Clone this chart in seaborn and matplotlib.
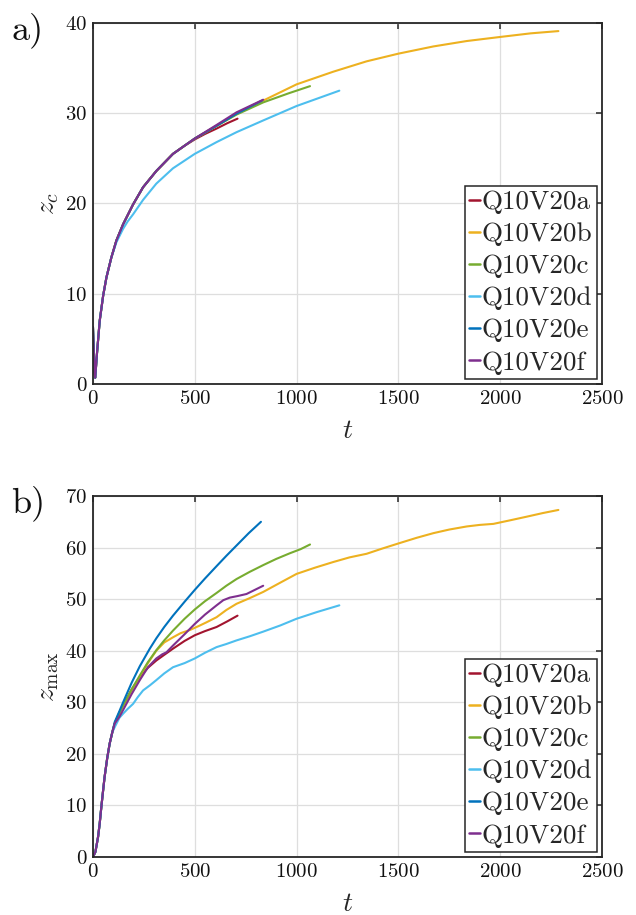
import matplotlib
matplotlib.use("Agg")
import matplotlib.pyplot as plt
import seaborn as sns
import pandas as pd

# ---------------- data ----------------
names = ["Q10V20a", "Q10V20b", "Q10V20c", "Q10V20d", "Q10V20e", "Q10V20f"]
colors = ["#A2142F", "#EDB120", "#77AC30", "#4DBEEE", "#0072BD", "#7E2F8E"]

# panel a: z_c(t)
ta_a = [0, 5, 11, 20, 33, 50, 66, 90, 115, 148, 197, 246, 311, 393, 450, 500, 550, 607, 660, 710]
za_a = [2.5, 1.5, 0.7, 3.5, 7.0, 9.8, 11.8, 14.0, 15.9, 17.7, 19.9, 21.8, 23.6, 25.5, 26.4, 27.1, 27.7, 28.3, 28.9, 29.4]
ta_b = [0, 5, 11, 20, 33, 50, 66, 90, 115, 148, 197, 246, 311, 393, 500, 607, 705, 836, 1000, 1180, 1344, 1500, 1672, 1836, 2000, 2150, 2286]
za_b = [6.3, 3.0, 0.7, 3.5, 7.0, 9.8, 11.8, 14.0, 15.9, 17.7, 19.9, 21.8, 23.6, 25.5, 27.2, 28.6, 29.9, 31.4, 33.2, 34.6, 35.75, 36.6, 37.4, 38.0, 38.45, 38.85, 39.1]
ta_c = [0, 5, 11, 20, 33, 50, 66, 90, 115, 148, 197, 246, 311, 393, 500, 607, 705, 836, 960, 1066]
za_c = [6.3, 3.0, 0.7, 3.5, 7.0, 9.8, 11.8, 14.0, 15.9, 17.7, 19.9, 21.8, 23.6, 25.5, 27.2, 28.6, 29.85, 31.2, 32.2, 33.0]
ta_d = [0, 5, 11, 20, 33, 50, 66, 90, 115, 148, 170, 197, 246, 311, 393, 500, 607, 705, 836, 1000, 1210]
za_d = [6.3, 3.0, 0.7, 3.5, 7.0, 9.8, 11.8, 14.0, 15.7, 17.2, 18.0, 18.8, 20.4, 22.2, 23.9, 25.5, 26.8, 27.9, 29.2, 30.8, 32.5]
ta_e = [0, 5, 11, 20, 33, 50, 66, 90, 115, 148, 197, 246, 311, 393, 500, 607, 705, 830]
za_e = [6.3, 3.0, 0.7, 3.5, 7.0, 9.8, 11.8, 14.0, 15.9, 17.7, 19.9, 21.8, 23.6, 25.5, 27.2, 28.6, 29.95, 31.4]
ta_f = [0, 5, 11, 20, 33, 50, 66, 90, 115, 148, 197, 246, 311, 393, 500, 607, 705, 836]
za_f = [6.3, 3.0, 0.7, 3.5, 7.0, 9.8, 11.8, 14.0, 15.9, 17.7, 19.9, 21.8, 23.6, 25.5, 27.2, 28.7, 30.1, 31.5]

# panel b: z_max(t)
tb_early = [0, 12, 25, 33, 41, 50, 57, 70, 82, 95, 107]
zb_early = [0, 1.0, 3.9, 6.5, 9.7, 13.0, 15.5, 19.2, 22.0, 24.2, 25.9]
tb_a = tb_early + [130, 148, 190, 230, 270, 311, 350, 393, 450, 500, 550, 607, 660, 710]
zb_a = zb_early + [28.0, 29.4, 32.5, 34.9, 36.7, 38.1, 39.2, 40.4, 41.9, 43.0, 43.8, 44.6, 45.7, 46.8]
tb_b = tb_early + [130, 148, 190, 230, 270, 311, 350, 393, 430, 475, 520, 557, 607, 655, 705, 770, 836, 920, 1000,
                   1090, 1180, 1260, 1344, 1420, 1500, 1590, 1672, 1750, 1836, 1900, 1967, 2050, 2131, 2210, 2286]
zb_b = zb_early + [28.0, 29.3, 32.3, 35.0, 37.6, 40.0, 41.6, 42.6, 43.4, 44.0, 44.8, 45.5, 46.5, 47.9, 49.1, 50.2, 51.4, 53.2, 54.9,
                   56.1, 57.2, 58.1, 58.8, 59.8, 60.8, 61.9, 62.8, 63.5, 64.1, 64.4, 64.6, 65.3, 66.0, 66.7, 67.3]
tb_c = tb_early + [130, 148, 190, 230, 270, 311, 350, 393, 450, 500, 550, 607, 655, 705, 770, 836, 900, 967, 1020, 1066]
zb_c = zb_early + [28.0, 29.4, 32.5, 35.2, 37.8, 40.1, 42.0, 43.9, 46.2, 48.0, 49.6, 51.2, 52.6, 53.9, 55.3, 56.6, 57.8, 58.9, 59.7, 60.6]
tb_d = tb_early[:-1] + [107, 130, 148, 170, 197, 220, 246, 280, 311, 350, 393, 450, 500, 550, 607, 655, 705, 770, 836, 920, 1000, 1100, 1210]
zb_d = zb_early[:-1] + [25.2, 27.0, 27.8, 28.7, 29.7, 31.0, 32.3, 33.3, 34.3, 35.6, 36.8, 37.6, 38.5, 39.6, 40.7, 41.3, 42.0, 42.8, 43.7, 44.9, 46.2, 47.5, 48.8]
tb_e = tb_early[:-1] + [107, 130, 148, 190, 230, 279, 311, 350, 393, 450, 500, 550, 607, 655, 705, 765, 825]
zb_e = zb_early[:-1] + [26.2, 28.3, 30.0, 33.8, 37.0, 40.4, 42.4, 44.6, 46.8, 49.5, 51.8, 54.0, 56.4, 58.4, 60.4, 62.8, 65.0]
tb_f = tb_early + [130, 148, 190, 230, 270, 311, 340, 361, 393, 450, 500, 550, 607, 640, 672, 710, 754, 795, 836]
zb_f = zb_early + [27.2, 28.5, 31.6, 34.3, 36.8, 38.5, 39.3, 39.7, 41.0, 43.2, 45.2, 47.0, 48.8, 49.8, 50.3, 50.6, 51.0, 51.8, 52.6]

xticks = [0, 500, 1000, 1500, 2000, 2500]
yticks_a = [0, 10, 20, 30, 40]
yticks_b = [0, 10, 20, 30, 40, 50, 60, 70]

panel_a = [(ta_a, za_a), (ta_b, za_b), (ta_c, za_c), (ta_d, za_d), (ta_e, za_e), (ta_f, za_f)]
panel_b = [(tb_a, zb_a), (tb_b, zb_b), (tb_c, zb_c), (tb_d, zb_d), (tb_e, zb_e), (tb_f, zb_f)]

# ---------------- style ----------------
sns.set_theme(style="white")
plt.rcParams["font.family"] = ["cmr10", "DejaVu Serif"]
plt.rcParams["mathtext.fontset"] = "cm"
plt.rcParams["axes.formatter.use_mathtext"] = True
plt.rcParams["axes.unicode_minus"] = False

fig = plt.figure(figsize=(6.36, 9.15), dpi=100)
ax1 = fig.add_axes([0.1462, 0.5803, 0.8003, 0.3946])
ax2 = fig.add_axes([0.1462, 0.0634, 0.8003, 0.3945])

edge = "#262626"


def draw(ax, series, yticks, ylabel, plabel):
    for (t, z), name, c in zip(series, names, colors):
        df = pd.DataFrame({"t": t, "z": z})
        sns.lineplot(data=df, x="t", y="z", ax=ax, color=c, lw=1.5,
                     label=name, sort=False, estimator=None)
    ax.set_xlim(0, 2500)
    ax.set_ylim(yticks[0], yticks[-1])
    ax.set_xticks(xticks)
    ax.set_yticks(yticks)
    ax.grid(True, color="#dedede", lw=0.9)
    ax.set_axisbelow(True)
    for s in ax.spines.values():
        s.set_color(edge)
        s.set_linewidth(1.3)
        s.set_visible(True)
    ax.tick_params(direction="in", top=True, right=True, length=4.5, width=1.1,
                   color=edge, labelsize=15, labelcolor="#111111", pad=4)
    ax.set_xlabel(r"$t$", fontsize=20, labelpad=7)
    ax.set_ylabel(ylabel, fontsize=20, labelpad=3)
    leg = ax.legend(loc="lower right", fontsize=19.5, frameon=True, fancybox=False,
                    edgecolor=edge, handlelength=0.4, handletextpad=0.08,
                    borderpad=0.15, labelspacing=0.3, borderaxespad=0.2)
    leg.get_frame().set_linewidth(1.1)
    leg.get_frame().set_alpha(1)
    for line in leg.get_lines():
        line.set_linewidth(1.8)
    ax.text(-0.16, 0.98, plabel, transform=ax.transAxes, fontsize=26,
            ha="left", va="center", color="#111111")


draw(ax1, panel_a, yticks_a, r"$z_c$", "a)")
draw(ax2, panel_b, yticks_b, r"$z_{\max}$", "b)")

fig.savefig("out.png", dpi=100, facecolor="white")
